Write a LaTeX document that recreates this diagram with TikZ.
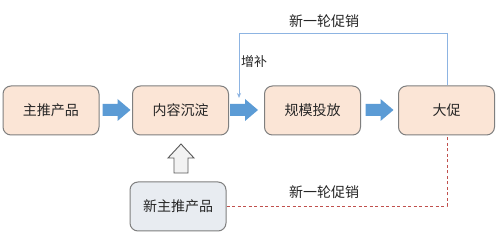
\documentclass[tikz,border=0pt]{standalone}
\usepackage{fontspec}
\setmainfont{Noto Sans CJK SC}
\usetikzlibrary{arrows.meta}
\begin{document}
\begin{tikzpicture}[x=1pt,y=-1pt,
  box/.style={draw=boxborder,line width=1pt,rounded corners=8pt,fill=peach,minimum width=96pt,minimum height=49pt,inner sep=0pt,font=\fontsize{14}{14}\selectfont,text=textc},
  graybox/.style={box,fill=grayfill},
  lbl/.style={font=\fontsize{14}{14}\selectfont,text=textc,inner sep=0pt},
  barrow/.pic={\fill[arrowblue] (-14,-6) -- (1,-6) -- (1,-11) -- (14,0) -- (1,11) -- (1,6) -- (-14,6) -- cycle;},
  feed/.style={draw=lineblue,line width=0.9pt},
  dashline/.style={draw=dashred,line width=0.9pt,dash pattern=on 3pt off 2.5pt}
]
\definecolor{peach}{HTML}{FBE5D6}
\definecolor{grayfill}{HTML}{E8ECF1}
\definecolor{boxborder}{HTML}{7F7F7F}
\definecolor{textc}{HTML}{262626}
\definecolor{arrowblue}{HTML}{5B9BD5}
\definecolor{lineblue}{HTML}{8DB4E2}
\definecolor{dashred}{HTML}{C0504D}
\definecolor{upfill}{HTML}{F2F2F2}
\definecolor{updraw}{HTML}{595959}
\useasboundingbox (0,0) rectangle (499,235);
\fill[white] (0,0) rectangle (499,235);

\node[box] (b1) at (51,110.5) {主推产品};
\node[box] (b2) at (180.5,110.5) {内容沉淀};
\node[box] (b3) at (312.5,110.5) {规模投放};
\node[box] (b4) at (446.5,110.5) {大促};
\node[graybox] (b5) at (178,206.5) {新主推产品};

\pic at (116.5,110) {barrow};
\pic at (244,110) {barrow};
\pic at (379.5,110) {barrow};

% hollow up arrow
\draw[fill=upfill,draw=updraw,line width=0.9pt,line join=miter]
  (174,173) -- (174,158) -- (168,158) -- (181,144) -- (194,158) -- (188,158) -- (188,173) -- cycle;

% feedback loop (blue)
\coordinate (fbtop) at (447,33);
\coordinate (fbleft) at (239,33);
\coordinate (fbend) at (239,98);
\draw[feed,-{Stealth[length=5pt,width=4pt]}] (b4.north -| fbtop) -- (fbtop) -- (fbleft) -- (fbend);
\node[lbl] (l1) at (324,21) {新一轮促销};
\node[lbl,anchor=west,font=\fontsize{13}{13}\selectfont] (l2) at (241,62) {增补};

% dashed red
\coordinate (dcorner) at (447,206);
\draw[dashline] (b5.east |- dcorner) -- (dcorner) -- (b4.south -| dcorner);
\node[lbl] (l3) at (324,192) {新一轮促销};
\end{tikzpicture}
\end{document}
